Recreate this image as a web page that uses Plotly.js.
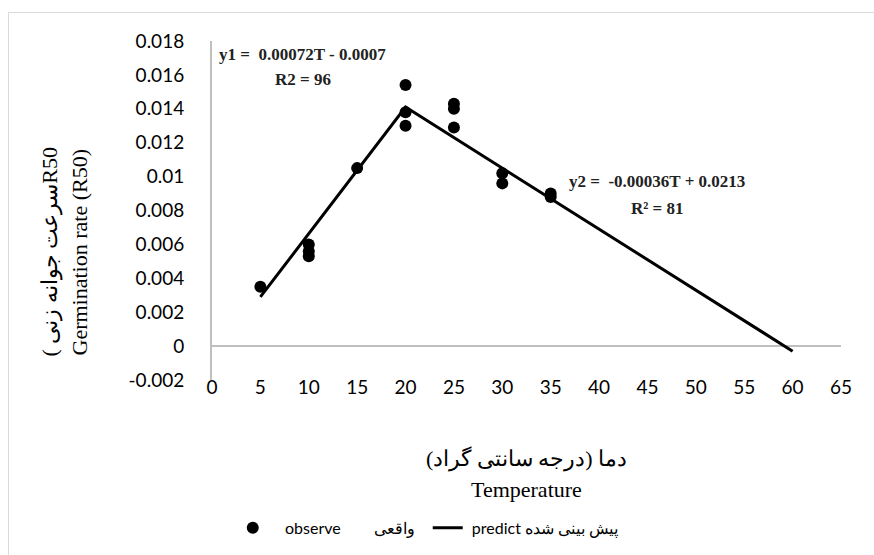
<!DOCTYPE html>
<html>
<head>
<meta charset="utf-8">
<script src="https://cdn.plot.ly/plotly-3.0.1.min.js"></script>
<style>
html,body{margin:0;padding:0;background:#fff;overflow:hidden;}
#chart{width:874px;height:555px;position:relative;}
#frame{position:absolute;left:8px;top:12px;width:900px;height:600px;border:1.5px solid #d9d9d9;pointer-events:none;}
</style>
</head>
<body>
<div id="chart"></div>
<div id="frame"></div>
<script>
// Observed germination rate (R50)
const obsTemp = [5, 10, 10, 10, 15, 20, 20, 20, 25, 25, 25, 30, 30, 35, 35];
const obsRate = [0.0035, 0.0060, 0.0056, 0.0053, 0.0105, 0.0154, 0.0138, 0.0130, 0.0143, 0.0140, 0.0129, 0.0102, 0.0096, 0.0090, 0.0088];
// Predicted (segmented linear model)
const predTemp = [5, 20, 60];
const predRate = [0.0029, 0.0141, -0.0003];
// Axis ticks
const xTicks = [0, 5, 10, 15, 20, 25, 30, 35, 40, 45, 50, 55, 60, 65];
const yTicks = [-0.002, 0, 0.002, 0.004, 0.006, 0.008, 0.01, 0.012, 0.014, 0.016, 0.018];
const yTickText = ['-0.002', '0', '0.002', '0.004', '0.006', '0.008', '0.01', '0.012', '0.014', '0.016', '0.018'];

const NB = '\u00a0';
const traces = [
  {
    x: obsTemp, y: obsRate, type: 'scatter', mode: 'markers',
    name: NB + NB + NB + 'observe' + NB.repeat(8) + 'واقعی' + NB + NB,
    marker: {color: '#000', size: 12}
  },
  {
    x: predTemp, y: predRate, type: 'scatter', mode: 'lines',
    name: NB + 'predict پیش بینی شده',
    line: {color: '#000', width: 3}
  }
];

const serif = 'Liberation Serif, Times New Roman, serif';
const eqFont = {family: serif, size: 17, color: '#222'};
const titleFont = {family: serif, size: 22, color: '#000'};
const layout = {
  width: 874, height: 555,
  margin: {l: 212, r: 33, t: 41, b: 174},
  paper_bgcolor: '#fff', plot_bgcolor: '#fff',
  showlegend: true,
  legend: {
    orientation: 'h', x: 0.033, xanchor: 'left', y: -0.432, yanchor: 'middle',
    font: {family: 'Lato, Noto Sans, sans-serif', size: 16, color: '#000'},
    bgcolor: 'rgba(0,0,0,0)'
  },
  xaxis: {
    range: [0, 65], tickvals: xTicks, ticktext: xTicks.map(String),
    showgrid: false, zeroline: false, showline: false, ticks: '',
    tickfont: {family: 'Lato, Noto Sans, sans-serif', size: 19, color: '#000'},
    ticklabelstandoff: -6,
    fixedrange: true
  },
  yaxis: {
    range: [-0.002, 0.018], tickvals: yTicks, ticktext: yTickText,
    showgrid: false, zeroline: true, zerolinecolor: '#bfbfbf', zerolinewidth: 2,
    showline: true, linecolor: '#bfbfbf', linewidth: 2, ticks: '',
    tickfont: {family: 'Lato, Noto Sans, sans-serif', size: 19, color: '#000'},
    ticklabelstandoff: 22,
    fixedrange: true
  },
  annotations: [
    {x: 9.4, y: 0.01718, xref: 'x', yref: 'y', text: '<b>y1 =  0.00072T - 0.0007</b>', showarrow: false, font: eqFont},
    {x: 9.4, y: 0.0157, xref: 'x', yref: 'y', text: '<b>R2 = 96</b>', showarrow: false, font: eqFont},
    {x: 46.0, y: 0.0097, xref: 'x', yref: 'y', text: '<b>y2 =  -0.00036T + 0.0213</b>', showarrow: false, font: eqFont},
    {x: 46.0, y: 0.00812, xref: 'x', yref: 'y', text: '<b>R² = 81</b>', showarrow: false, font: eqFont},
    // y-axis title (two lines)
    {x: -0.2576, y: 0.379, xref: 'paper', yref: 'paper', xanchor: 'center', yanchor: 'middle',
     textangle: -90, showarrow: false, text: '( سرعت جوانه زنیR50', font: titleFont},
    {x: -0.2099, y: 0.379, xref: 'paper', yref: 'paper', xanchor: 'center', yanchor: 'middle',
     textangle: -90, showarrow: false, text: 'Germination rate (R50)', font: titleFont},
    // x-axis title (two lines)
    {x: 0.5, y: -0.232, xref: 'paper', yref: 'paper', xanchor: 'center', yanchor: 'middle',
     showarrow: false, text: 'دما (درجه سانتی گراد)', font: titleFont},
    {x: 0.5, y: -0.324, xref: 'paper', yref: 'paper', xanchor: 'center', yanchor: 'middle',
     showarrow: false, text: 'Temperature', font: titleFont}
  ]
};

Plotly.newPlot('chart', traces, layout, {staticPlot: true, displayModeBar: false});
</script>
</body>
</html>
